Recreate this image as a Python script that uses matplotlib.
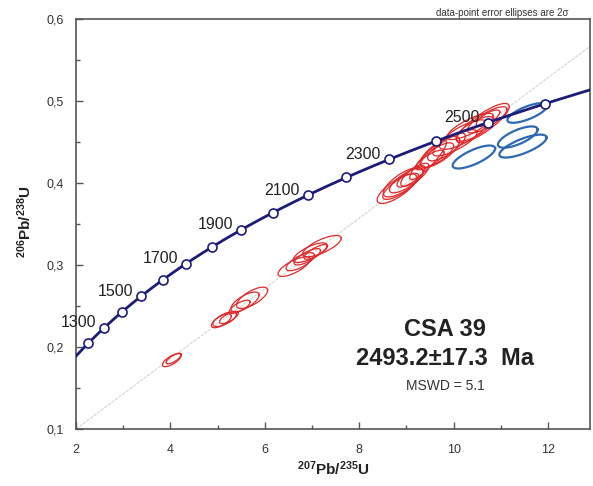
import numpy as np
import matplotlib
matplotlib.use("Agg")
import matplotlib.pyplot as plt
from matplotlib.ticker import MultipleLocator, FixedLocator

plt.rcParams['font.family'] = ['Liberation Sans', 'DejaVu Sans']
plt.rcParams['mathtext.fontset'] = 'custom'
plt.rcParams['mathtext.rm'] = 'Liberation Sans:bold'
plt.rcParams['mathtext.it'] = 'Liberation Sans:bold'
plt.rcParams['mathtext.bf'] = 'Liberation Sans:bold'

# ---- data ----
LAMBDA_238 = 1.55125e-10
LAMBDA_235 = 9.8485e-10

marker_ages_ma = [1200, 1300, 1400, 1500, 1600, 1700, 1800, 1900, 2000,
                  2100, 2200, 2300, 2400, 2500, 2600]
label_ages_ma = [1300, 1500, 1700, 1900, 2100, 2300, 2500]

discordia_x = [2.0, 12.9]
discordia_y = [0.100, 0.567]

# red ellipses: centre x, centre y, half x-extent, half y-extent, rho
red_x = [4.03, 4.07, 5.08, 5.15, 5.24, 5.47, 5.58, 5.73, 6.62, 6.75, 6.90, 6.96, 7.08, 7.21,
         8.80, 8.88, 8.93, 9.00, 9.10, 9.18, 9.46, 9.50, 9.65, 9.71, 9.85, 10.03, 10.20,
         10.35, 10.45, 10.62, 10.71, 10.73]
red_y = [0.184, 0.186, 0.232, 0.234, 0.236, 0.249, 0.255, 0.260, 0.298, 0.304, 0.310, 0.315,
         0.316, 0.323, 0.393, 0.396, 0.401, 0.403, 0.408, 0.410, 0.428, 0.428, 0.434, 0.438,
         0.444, 0.449, 0.459, 0.469, 0.466, 0.473, 0.477, 0.479]
red_ex = [0.20, 0.16, 0.21, 0.25, 0.20, 0.22, 0.30, 0.33, 0.34, 0.30, 0.28, 0.36, 0.25, 0.41,
          0.42, 0.38, 0.42, 0.36, 0.30, 0.30, 0.39, 0.30, 0.35, 0.42, 0.40, 0.47, 0.50,
          0.49, 0.40, 0.56, 0.42, 0.25]
red_ey = [0.0080, 0.0065, 0.0085, 0.0090, 0.0075, 0.0080, 0.0120, 0.0130, 0.0120, 0.0110, 0.0100,
          0.0120, 0.0090, 0.0130, 0.0180, 0.0160, 0.0180, 0.0150, 0.0130, 0.0140, 0.0240, 0.0120,
          0.0150, 0.0190, 0.0170, 0.0160, 0.0180, 0.0160, 0.0150, 0.0240, 0.0160, 0.0100]
red_rho = [0.72, 0.75, 0.68, 0.66, 0.72, 0.72, 0.70, 0.70, 0.74, 0.72, 0.76, 0.74, 0.78, 0.74,
           0.76, 0.78, 0.74, 0.76, 0.78, 0.76, 0.90, 0.78, 0.76, 0.74, 0.78, 0.80, 0.78,
           0.80, 0.76, 0.84, 0.80, 0.74]

# blue ellipses
blue_x = [11.56, 11.36, 11.47, 10.43]
blue_y = [0.4854, 0.456, 0.445, 0.4317]
blue_ex = [0.42, 0.42, 0.50, 0.45]
blue_ey = [0.012, 0.013, 0.014, 0.014]
blue_rho = [0.72, 0.70, 0.74, 0.74]

x_ticks = [2, 4, 6, 8, 10, 12]
y_ticks = [0.1, 0.2, 0.3, 0.4, 0.5, 0.6]
y_tick_labels = ['0,1', '0,2', '0,3', '0,4', '0,5', '0,6']

sample_name = 'CSA 39'
age_text = '2493.2\u00b117.3  Ma'
mswd_text = 'MSWD = 5.1'
note_text = 'data-point error ellipses are 2\u03c3'

# ---- figure ----
W, H = 593, 486
fig = plt.figure(figsize=(W / 100, H / 100), dpi=100)
ax = fig.add_axes([76 / W, 1 - 429 / H, (590 - 76) / W, (429 - 19) / H])
xmin, xmax = 2.0, 2.0 + (590 - 76) / 47.2
ax.set_xlim(xmin, xmax)
ax.set_ylim(0.1, 0.6)

navy = '#1c1c78'
red = '#e0282a'
blue = '#2e68b0'

# discordia
ax.plot(discordia_x, discordia_y, color='#d4d4d4', lw=0.8, ls=(0, (3, 1)), zorder=1)


def ellipse(cx, cy, ex, ey, rho, n=200):
    t = np.linspace(0, 2 * np.pi, n)
    xs = cx + ex * np.cos(t)
    ys = cy + ey * (rho * np.cos(t) + np.sqrt(1 - rho ** 2) * np.sin(t))
    return xs, ys


for cx, cy, ex, ey, r in zip(red_x, red_y, red_ex, red_ey, red_rho):
    xs, ys = ellipse(cx, cy, ex, ey, r)
    ax.plot(xs, ys, color=red, lw=0.9, zorder=3)

# concordia
t_min = np.log(1 + xmin) / LAMBDA_235
t_max = np.log(1 + xmax) / LAMBDA_235
tt = np.linspace(t_min, t_max, 400)
ax.plot(np.exp(LAMBDA_235 * tt) - 1, np.exp(LAMBDA_238 * tt) - 1, color=navy, lw=2.0, zorder=4)

ta = np.array(marker_ages_ma) * 1e6
ax.plot(np.exp(LAMBDA_235 * ta) - 1, np.exp(LAMBDA_238 * ta) - 1, 'o', ms=6.5,
        mfc='white', mec=navy, mew=1.2, zorder=5)

for a in label_ages_ma:
    t = a * 1e6
    ax.annotate(str(a), (np.exp(LAMBDA_235 * t) - 1, np.exp(LAMBDA_238 * t) - 1),
                xytext=(-8, 5), textcoords='offset pixels', ha='right', va='center',
                fontsize=11.5, color='#222222', zorder=6)

for cx, cy, ex, ey, r in zip(blue_x, blue_y, blue_ex, blue_ey, blue_rho):
    xs, ys = ellipse(cx, cy, ex, ey, r)
    ax.plot(xs, ys, color=blue, lw=1.6, zorder=3)

# axes styling
for s in ax.spines.values():
    s.set_color('#555555')
    s.set_linewidth(1.2)
ax.xaxis.set_major_locator(FixedLocator(x_ticks))
ax.xaxis.set_minor_locator(MultipleLocator(1))
ax.yaxis.set_major_locator(FixedLocator(y_ticks))
ax.yaxis.set_minor_locator(MultipleLocator(0.05))
ax.set_yticklabels(y_tick_labels)
ax.tick_params(which='both', direction='in', color='#555555', labelcolor='#333333',
               labelsize=9, top=False, right=False)
ax.tick_params(which='major', length=5, width=1.0, pad=9)
ax.tick_params(which='minor', length=3, width=1.0)
ax.tick_params(axis='x', which='major', pad=11)

fig.text(25 / W, 1 - 222 / H, r'$^{206}$Pb/$^{238}$U', rotation=90, ha='center', va='center',
         fontsize=11, fontweight='bold', color='#222222')
fig.text(333 / W, 1 - 469 / H, r'$^{207}$Pb/$^{235}$U', ha='center', va='center',
         fontsize=11, fontweight='bold', color='#222222')
fig.text(568 / W, 1 - 13 / H, note_text, ha='right', va='center', fontsize=7, color='#333333')

ax.text(0.718, 0.2415, sample_name, transform=ax.transAxes, ha='center', va='center',
        fontsize=17, fontweight='bold', color='#222222')
ax.text(0.718, 0.173, age_text, transform=ax.transAxes, ha='center', va='center',
        fontsize=17, fontweight='bold', color='#222222')
ax.text(0.718, 0.105, mswd_text, transform=ax.transAxes, ha='center', va='center',
        fontsize=10, color='#333333')

fig.savefig('out.png', dpi=100)
